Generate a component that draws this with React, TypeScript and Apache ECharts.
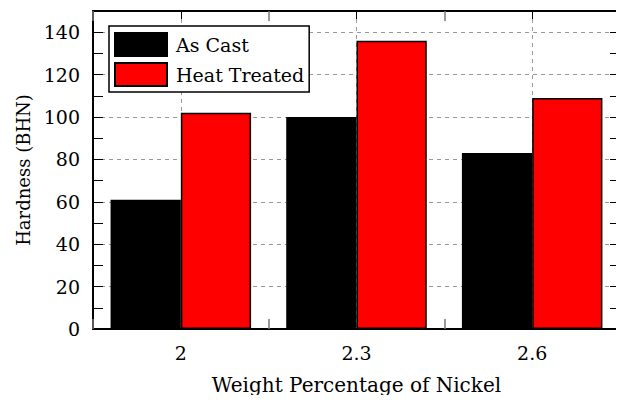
import React, { useEffect, useRef } from "react";
import * as echarts from "echarts";

const categories = ["2", "2.3", "2.6"];
const asCast = [61, 100, 83];
const heatTreated = [102, 136, 109];
const seriesNames = ["As Cast", "Heat Treated"];

const FONT = "DejaVu Serif";

export default function App() {
  const ref = useRef<HTMLDivElement>(null);
  useEffect(() => {
    if (!ref.current) return;
    const chart = echarts.init(ref.current, undefined, { renderer: "svg" });
    const mkFrame = () => ({ show: true, onZero: false, lineStyle: { color: "#000", width: 2 } });
    const yCommon = {
      type: "value" as const,
      min: 0,
      max: 150,
      interval: 20,
      axisTick: { show: true, inside: true, length: 10, lineStyle: { color: "#000", width: 1 } },
      minorTick: { show: true, splitNumber: 2, length: 10, lineStyle: { color: "#000", width: 1 } },
    };
    chart.setOption({
      animation: false,
      textStyle: { fontFamily: FONT, color: "#000" },
      grid: { left: 93, right: 4, top: 11, bottom: 74 },
      legend: {
        orient: "vertical",
        left: 109,
        top: 26,
        padding: [6, 5, 5, 5],
        itemGap: 5,
        itemWidth: 52,
        itemHeight: 23,
        icon: "rect",
        backgroundColor: "#fff",
        borderColor: "#000",
        borderWidth: 1.5,
        borderRadius: 0,
        textStyle: { fontFamily: FONT, fontSize: 19, color: "#000", lineHeight: 23, padding: [0, 0, 0, 4] },
        data: seriesNames,
      },
      xAxis: [
        {
          type: "category",
          data: categories,
          position: "bottom",
          axisLine: mkFrame(),
          axisTick: { show: true, inside: true, length: 10, lineStyle: { color: "#777", width: 1.5 } },
          axisLabel: { fontFamily: FONT, fontSize: 19, color: "#000", margin: 14 },
          splitLine: {
            show: true,
            alignWithLabel: true,
            lineStyle: { color: "#999", type: [4, 4], width: 1 },
          },
          name: "Weight Percentage of Nickel",
          nameLocation: "middle",
          nameGap: 46,
          nameTextStyle: { fontFamily: FONT, fontSize: 20, color: "#000" },
        },
        {
          type: "category",
          data: categories,
          position: "top",
          axisLine: mkFrame(),
          axisTick: { show: true, inside: true, alignWithLabel: true, length: 8, lineStyle: { color: "#000", width: 1 } },
          axisLabel: { show: false },
          splitLine: { show: false },
        },
        {
          type: "category",
          data: categories,
          position: "top",
          axisLine: { show: false, onZero: false },
          axisTick: { show: true, inside: true, length: 10, lineStyle: { color: "#777", width: 1.5 } },
          axisLabel: { show: false },
          splitLine: { show: false },
        },
      ],
      yAxis: [
        {
          ...yCommon,
          position: "left",
          axisLine: mkFrame(),
          axisLabel: {
            fontFamily: FONT,
            fontSize: 19,
            color: "#000",
            margin: 13,
            showMaxLabel: false,
            formatter: (v: number) => (v > 140 ? "" : String(v)),
          },
          splitLine: { show: true, lineStyle: { color: "#999", type: [4, 4], width: 1 } },
          name: "Hardness (BHN)",
          nameLocation: "middle",
          nameGap: 59,
          nameTextStyle: { fontFamily: FONT, fontSize: 18, color: "#000" },
        },
        {
          ...yCommon,
          position: "right",
          axisLine: mkFrame(),
          axisLabel: { show: false },
          splitLine: { show: false },
        },
      ],
      series: [
        {
          name: seriesNames[0],
          type: "bar",
          data: asCast,
          barGap: "0%",
          barCategoryGap: "20%",
          itemStyle: { color: "#000", borderColor: "#000", borderWidth: 1.5 },
        },
        {
          name: seriesNames[1],
          type: "bar",
          data: heatTreated,
          barGap: "0%",
          barCategoryGap: "20%",
          itemStyle: { color: "#ff0000", borderColor: "#000", borderWidth: 1.5 },
        },
      ],
    });
    return () => chart.dispose();
  }, []);
  return <div ref={ref} style={{ width: 624, height: 403, margin: -8 }} />;
}
